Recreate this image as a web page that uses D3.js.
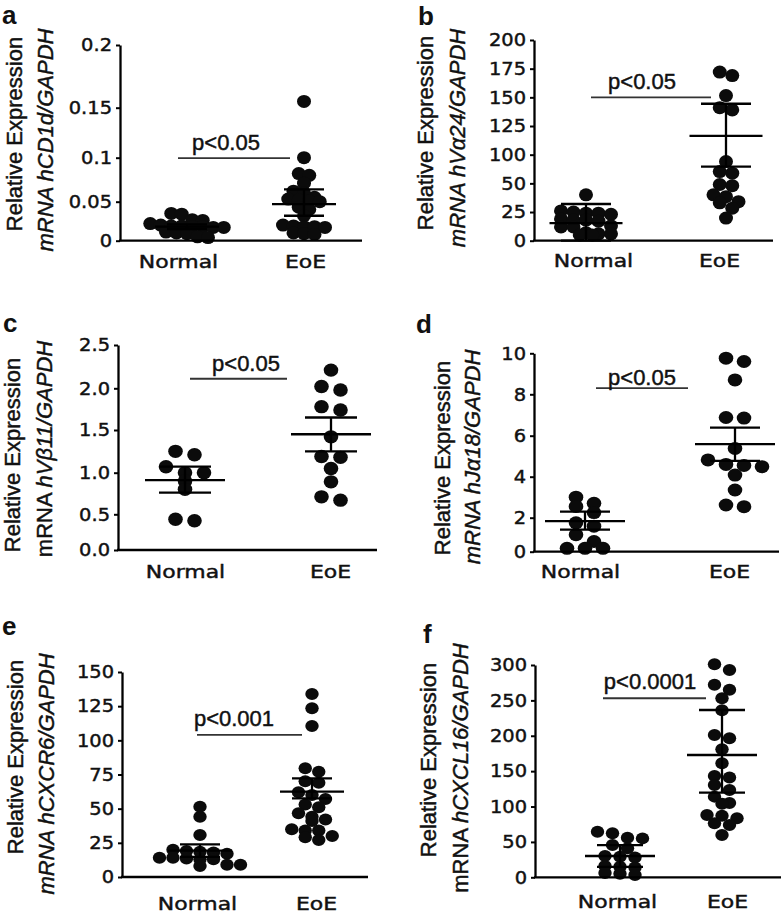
<!DOCTYPE html>
<html><head><meta charset="utf-8">
<script src="https://cdn.jsdelivr.net/npm/d3@7/dist/d3.min.js"></script>
<style>body{margin:0;background:#fff}</style>
</head><body><svg id="chart" width="783" height="914"></svg>
<script>
const categories = ["Normal", "EoE"];

// ---- panel a : hCD1d ----
const aNormal = [0.035,0.034,0.027,0.026,0.022,0.020,0.019,0.019,0.018,0.018,0.017,0.017,0.011,0.010,0.009,0.005,0.004];
const aEoE = [0.155,0.100,0.082,0.080,0.071,0.062,0.060,0.055,0.053,0.052,0.051,0.050,0.043,0.040,0.032,0.020,0.019,0.018,0.018,0.017,0.010,0.009,0.008];
const aMean = [0.018, 0.047], aHi = [0.021, 0.064], aLo = [0.015, 0.032];
const aTicks = [0, 0.05, 0.1, 0.15, 0.2], aTickLabels = ["0","0.05","0.1","0.15","0.2"];
const aP = "p<0.05", aPLine = 0.0995;

// ---- panel b : hVα24 ----
const bNormal = [40,26,25,24,24,23,19,18,18,17,13,12,12,7,6,6,5,5];
const bEoE = [172,169,151.5,141,139,88,70.5,67.7,49,48,40,38.4,34,33,28.4,19.7];
const bMean = [15.3, 116.4], bHi = [32, 144.4], bLo = [0, 79.3];
const bTicks = [0,25,50,100,125,150,175,200], bTickLabels = ["0","25","50","100","125","150","175","200"];
const bP = "p<0.05", bPLine = 150;

// ---- panel c : hVβ11 ----
const cNormal = [1.25,1.21,1.07,1.0,1.0,0.9,0.8,0.43,0.41];
const cEoE = [2.21,2.02,1.98,1.78,1.74,1.42,1.19,1.18,1.05,0.89,0.71,0.67];
const cMean = [0.91, 1.45], cHi = [1.07, 1.65], cLo = [0.76, 1.25];
const cTicks = [0,0.5,1,1.5,2,2.5], cTickLabels = ["0.0","0.5","1.0","1.5","2.0","2.5"];
const cP = "p<0.05", cPLine = 2.11;

// ---- panel d : hJα18 ----
const dNormal = [3.0,2.7,2.55,2.25,1.7,1.5,1.0,0.6,0.2,0.2,0.2];
const dEoE = [9.76,9.6,8.7,6.88,6.85,5.38,4.82,4.6,4.55,4.49,4.08,3.35,2.62,2.54];
const dMean = [1.8, 5.59], dHi = [2.3, 6.39], dLo = [1.3, 4.77];
const dTicks = [0,2,4,6,8,10], dTickLabels = ["0","2","4","6","8","10"];
const dP = "p<0.05", dPLine = 8.3;

// ---- panel e : hCXCR6 ----
const eNormal = [51.4,44.1,30.7,20,19,18.5,18,17,14,14,13.5,13,13,9,9,8];
const eEoE = [133.9,123.4,110.5,79.5,77,70,69,62,60,57,53,51,46.6,44.1,42,41,35,34,34,30,29,27];
const eMean = [19.3, 62.4], eHi = [23.9, 72.2], eLo = [14.7, 57.6];
const eTicks = [0,25,50,75,100,125,150], eTickLabels = ["0","25","50","75","100","125","150"];
const eP = "p<0.001", ePLine = 104;

// ---- panel f : hCXCL16 ----
const fNormal = [64.4,62.2,56,55,45.6,41,30,29,28,16,15,14,6,5,3.3];
const fEoE = [301,293,272,265,253,236,201,196.4,181,161,143,141,130.4,123.4,114,105,104,88,87,83.4,76.3,74,59.8];
const fMean = [30.1, 172.8], fHi = [45.6, 236.4], fLo = [14.6, 119.6];
const fTicks = [0,50,100,150,200,250,300], fTickLabels = ["0","50","100","150","200","250","300"];
const fP = "p<0.0001", fPLine = 253;

const titles2 = {
  a: [["mRNA hCD1d/GAPDH", true]],
  b: [["mRNA hVα24/GAPDH", true]],
  c: [["mRNA ", false], ["hVβ11/GAPDH", true]],
  d: [["mRNA hJα18/GAPDH", true]],
  e: [["mRNA hCXCR6/GAPDH", true]],
  f: [["mRNA ", false], ["hCXCL16/GAPDH", true]]
};

function even(b, t, n) { return d3.range(n).map(i => b + i * (t - b) / (n - 1)); }

const panels = [
  {id:"a", groups:[aNormal,aEoE], mean:aMean, hi:aHi, lo:aLo, ticks:aTicks, labels:aTickLabels, p:aP, pLine:aPLine,
   L:{ax:120, yPx:[240.7,201.7,157.7,107.7,45], xEnd:362, cat:[187,304], lab:[178,305], catBase:268, meanW:64, semW:40, pX:[178,290], pTx:226, pDy:8.3, letter:[2,24], t1:[22,134], t2:[53,140], rx:7, ry:6.5, gap:10.5, bin:7.5}},
  {id:"b", groups:[bNormal,bEoE], mean:bMean, hi:bHi, lo:bLo, ticks:bTicks, labels:bTickLabels, p:bP, pLine:bPLine,
   L:{ax:534, yPx:even(240.7,40,8), xEnd:773, cat:[586,726], lab:[593,719], catBase:267, meanW:73, semW:50, pX:[591,711], pTx:642, pDy:8, letter:[418,25], t1:[433,133], t2:[465,138], rx:7, ry:6.5, gap:12.5, bin:7.5}},
  {id:"c", groups:[cNormal,cEoE], mean:cMean, hi:cHi, lo:cLo, ticks:cTicks, labels:cTickLabels, p:cP, pLine:cPLine,
   L:{ax:118, yPx:[550,514.3,472.7,430,388.3,345], xEnd:377, cat:[185,331], lab:[185,330], catBase:578, meanW:80, semW:52, pX:[190,287], pTx:246, pDy:8, letter:[3,332], t1:[20,455], t2:[52,449], rx:7.3, ry:6.7, gap:19, bin:8}},
  {id:"d", groups:[dNormal,dEoE], mean:dMean, hi:dHi, lo:dLo, ticks:dTicks, labels:dTickLabels, p:dP, pLine:dPLine,
   L:{ax:534, yPx:[551.7,517.7,476.7,435.7,394.3,353.3], xEnd:779, cat:[585,735], lab:[580,729], catBase:578, meanW:80, semW:50, pX:[596,688], pTx:642, pDy:3, letter:[416,333], t1:[450,458], t2:[480,457], rx:7.3, ry:6.5, gap:18, bin:8}},
  {id:"e", groups:[eNormal,eEoE], mean:eMean, hi:eHi, lo:eLo, ticks:eTicks, labels:eTickLabels, p:eP, pLine:ePLine,
   L:{ax:122, yPx:even(877,672,7), xEnd:368, cat:[200,312], lab:[197,316], catBase:910, meanW:64, semW:40, pX:[197,302], pTx:234, pDy:9, letter:[2,635], t1:[23,757], t2:[54,774], rx:6.7, ry:6, gap:13.5, bin:7}},
  {id:"f", groups:[fNormal,fEoE], mean:fMean, hi:fHi, lo:fLo, ticks:fTicks, labels:fTickLabels, p:fP, pLine:fPLine,
   L:{ax:535, yPx:even(877.3,665,7), xEnd:781, cat:[620,722], lab:[617,727], catBase:908, meanW:70, semW:46, pX:[603,706], pTx:650, pDy:9, letter:[423,643], t1:[436,760], t2:[468,768], rx:6.7, ry:6, gap:15, bin:7}}
];

const svg = d3.select("#chart");
svg.append("rect").attr("width", 783).attr("height", 914).attr("fill", "#fff");

const TICK_SX = 1.08, CAT_SX = 1.22, TXT_STROKE = 0.45;

// Prism-style column scatter: bin points into rows by pixel height, spread each row symmetrically
function swarm(vals, y, cx, gap, bin) {
  const pts = vals.map(v => ({v, y: y(v)})).sort((a, b) => a.y - b.y);
  const rows = [];
  let cur = null;
  pts.forEach(p => {
    if (!cur || p.y - cur[0].y > bin) { cur = [p]; rows.push(cur); } else cur.push(p);
  });
  rows.forEach(r => { const n = r.length; r.forEach((p, i) => { p.x = cx + (i - (n - 1) / 2) * gap; }); });
  return pts;
}

function heavy(sel) { return sel.attr("stroke", "#111").attr("stroke-width", TXT_STROKE); }

panels.forEach(P => {
  const L = P.L;
  const g = svg.append("g");
  const y = d3.scaleLinear().domain(P.ticks).range(L.yPx);
  const x = d3.scalePoint().domain(categories).range(L.cat);
  const xl = d3.scalePoint().domain(categories).range(L.lab);
  const y0 = L.yPx[0];

  // dots
  P.groups.forEach((vals, gi) => {
    const pts = swarm(vals, y, x(categories[gi]), L.gap, L.bin);
    g.append("g").selectAll("ellipse").data(pts).join("ellipse")
      .attr("cx", d => d.x).attr("cy", d => d.y)
      .attr("rx", L.rx).attr("ry", L.ry).attr("fill", "#0b0b0b");
  });

  // mean and SEM
  categories.forEach((c, gi) => {
    const cx = x(c);
    const sg = g.append("g").attr("stroke", "#000").attr("stroke-width", 2.3).attr("fill", "none");
    sg.append("line").attr("x1", cx - L.meanW / 2).attr("x2", cx + L.meanW / 2)
      .attr("y1", y(P.mean[gi])).attr("y2", y(P.mean[gi]));
    sg.append("line").attr("x1", cx).attr("x2", cx).attr("y1", y(P.hi[gi])).attr("y2", y(P.lo[gi]));
    [P.hi[gi], P.lo[gi]].forEach(v => {
      sg.append("line").attr("x1", cx - L.semW / 2).attr("x2", cx + L.semW / 2)
        .attr("y1", y(v)).attr("y2", y(v));
    });
  });

  // y axis
  const ya = g.append("g").attr("transform", `translate(${L.ax},0)`)
    .call(d3.axisLeft(y).tickValues(P.ticks).tickFormat((d, i) => P.labels[i]).tickSizeInner(4).tickSizeOuter(0).tickPadding(4));
  ya.select(".domain").attr("stroke", "#000").attr("stroke-width", 2.3);
  ya.selectAll(".tick line").attr("stroke", "#000").attr("stroke-width", 2);
  heavy(ya.selectAll(".tick text").attr("font-family", "'DejaVu Sans', Verdana, sans-serif").attr("font-size", 18)
    .attr("fill", "#111").attr("x", -8 / TICK_SX).attr("transform", `scale(${TICK_SX},1)`));

  // x axis line + category labels
  g.append("line").attr("x1", L.ax - 1).attr("x2", L.xEnd).attr("y1", y0).attr("y2", y0)
    .attr("stroke", "#000").attr("stroke-width", 2.3);
  const xa = g.append("g").attr("transform", `translate(0,${L.catBase})`)
    .call(d3.axisBottom(xl).tickSize(0).tickPadding(0));
  xa.select(".domain").remove();
  heavy(xa.selectAll(".tick text").attr("font-family", "'DejaVu Sans', Verdana, sans-serif").attr("font-size", 18)
    .attr("fill", "#111").attr("y", 0).attr("dy", 0).attr("transform", `scale(${CAT_SX},1)`));

  // p-value bar
  const py = y(P.pLine);
  g.append("line").attr("x1", L.pX[0]).attr("x2", L.pX[1]).attr("y1", py).attr("y2", py)
    .attr("stroke", "#333").attr("stroke-width", 1.8);
  heavy(g.append("text").attr("x", L.pTx).attr("y", py - L.pDy).attr("text-anchor", "middle")
    .attr("font-family", "'Liberation Sans', Arial, sans-serif").attr("font-size", 22).attr("fill", "#111").text(P.p));

  // panel letter
  g.append("text").attr("x", L.letter[0]).attr("y", L.letter[1])
    .attr("font-family", "'Liberation Sans', Arial, sans-serif").attr("font-weight", "bold")
    .attr("font-size", 26).attr("fill", "#111").text(P.id);

  // y titles
  heavy(g.append("text").attr("transform", `translate(${L.t1[0]},${L.t1[1]}) rotate(-90)`)
    .attr("text-anchor", "middle").attr("font-family", "'Liberation Sans', Arial, sans-serif")
    .attr("font-size", 22).attr("fill", "#111").text("Relative Expression"));
  const t2 = heavy(g.append("text").attr("transform", `translate(${L.t2[0]},${L.t2[1]}) rotate(-90)`)
    .attr("text-anchor", "middle").attr("font-family", "'Liberation Sans', Arial, sans-serif")
    .attr("font-size", 22).attr("fill", "#111"));
  titles2[P.id].forEach(([s, it]) => t2.append("tspan").attr("font-style", it ? "italic" : "normal").text(s));
});
</script>
</body></html>
